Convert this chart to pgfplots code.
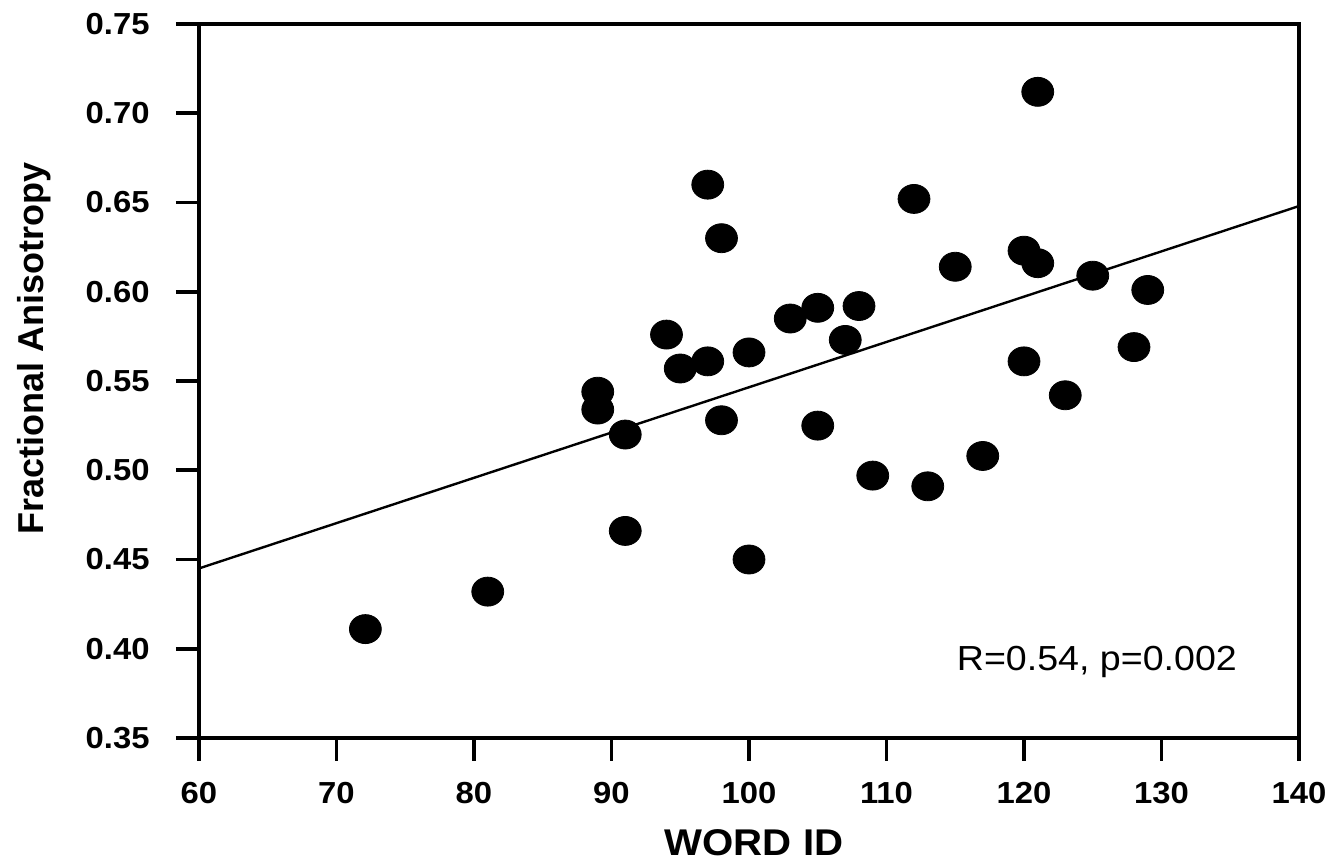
\documentclass[border=0pt]{standalone}
\usepackage{fontspec}
\setmainfont{Liberation Sans}[FakeStretch=1.08]
\newfontfamily\ylabfont{Liberation Sans}
\usepackage{pgfplots}
\pgfplotsset{compat=1.18}
\begin{document}
\begin{tikzpicture}
\begin{axis}[
  scale only axis,
  width=550pt, height=357pt,
  xmin=60, xmax=140, ymin=0.35, ymax=0.75,
  xtick={60,70,...,140},
  ytick={0.35,0.40,...,0.75},
  axis line style={line width=1.9pt},
  tick style={line width=1.9pt, black},
  major tick length=11.5pt,
  tick align=outside,
  xtick pos=bottom, ytick pos=left,
  minor tick num=0,
  /pgf/number format/assume math mode=true,
  ticklabel style={font=\fontsize{15.2}{18}\selectfont\bfseries, inner sep=0pt},
  yticklabel style={/pgf/number format/.cd, fixed, fixed zerofill, precision=2, /tikz/.cd, xshift=-13pt},
  xticklabel style={/pgf/number format/.cd, fixed, precision=0, /tikz/.cd, yshift=-10.5pt},
  xlabel={WORD ID},
  xlabel style={font=\fontsize{18.6}{22}\selectfont\bfseries, at={(axis description cs:0.5046,-0.1648)}, anchor=base, inner sep=0pt},
  ylabel={\ylabfont\bfseries Fractional Anisotropy},
  ylabel style={font=\fontsize{18}{22}\selectfont, at={(axis description cs:-0.1415,0.545)}, anchor=base, rotate=0, inner sep=0pt},
]
\addplot[only marks, mark=*, mark size=7.25pt, mark options={xscale=1.1, fill=black, draw=black}] coordinates {
(72.1,0.411) (81,0.432) (89,0.544) (89,0.534) (91,0.520) (91,0.466)
(94,0.576) (95,0.557) (97,0.561) (97,0.660) (98,0.630) (98,0.528)
(100,0.566) (100,0.450) (103,0.585) (105,0.591) (105,0.525) (107,0.573)
(108,0.592) (109,0.497) (112,0.652) (113,0.491) (115,0.614) (117,0.508)
(120,0.623) (120,0.561) (121,0.616) (121,0.712) (123,0.542) (125,0.609)
(128,0.569) (129,0.601)
};
\addplot[black, line width=1.2pt, no marks] coordinates {(60,0.445) (140,0.648)};
\node[anchor=base, font=\fontsize{17.4}{20}\selectfont, inner sep=0pt] at (axis cs:125.3,0.388) {R=0.54, p=0.002};
\end{axis}
\path (current axis.south west) +(-99.5pt,-61.5pt) (current axis.north east) +(14.5pt,12pt);
\end{tikzpicture}
\end{document}
